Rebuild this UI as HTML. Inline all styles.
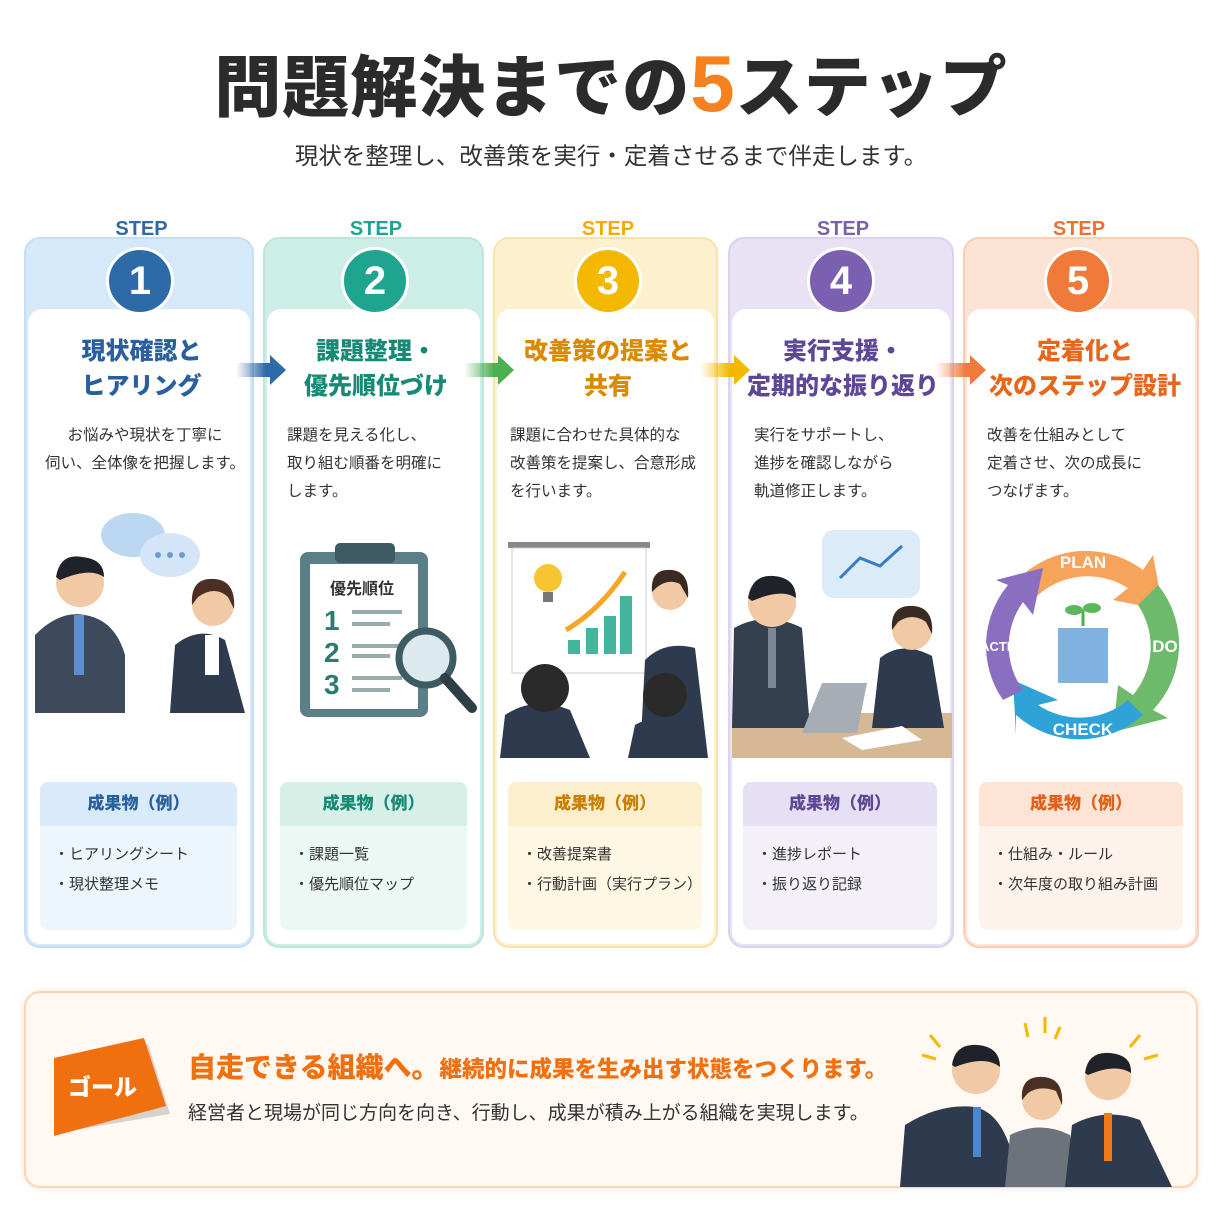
<!DOCTYPE html>
<html><head><meta charset="utf-8"><style>
*{margin:0;padding:0;box-sizing:border-box}
body{width:1222px;height:1226px;background:#fff;position:relative;font-family:"Liberation Sans","Noto Sans CJK JP",sans-serif;overflow:hidden;color:#333}
.a{position:absolute}
.h1{left:0;width:1222px;top:34px;text-align:center;font-size:67px;font-weight:900;color:#2b2b2b;letter-spacing:1px}
.h1 b{color:#f5821f;font-size:80px}
.sub{left:0;width:1222px;top:137px;text-align:center;font-size:23.5px;color:#333}
.card{border-radius:16px;border:2px solid;overflow:hidden}
.inner{position:absolute;left:2px;right:2px;top:70px;bottom:2px;background:#fff;border-radius:14px 14px 12px 12px}
.step{font-weight:900;font-size:20px;text-align:center;width:100%}
.circ{width:68px;height:68px;border-radius:50%;border:3px solid #fff;color:#fff;font-weight:900;font-size:40px;text-align:center;line-height:62px}
.t{text-align:center;font-weight:900;font-size:24px;line-height:35px;width:100%}
.d{font-size:15.5px;line-height:28px;color:#333}
.del{border-radius:8px;overflow:hidden}
.del .hd{height:44px;line-height:44px;text-align:center;font-weight:900;font-size:17px}
.del ul{list-style:none;padding:14px 0 0 14px;font-size:15px;line-height:30px;color:#333}
</style></head><body>
<div class="a h1">問題解決までの<b>5</b>ステップ</div>
<div class="a sub">現状を整理し、改善策を実行・定着させるまで伴走します。</div>

<div class="a card" style="left:24px;top:237px;width:230px;height:711px;border-color:#c6def5;background:#d6e9fb"><div class="inner"></div></div>
<div class="a card" style="left:263px;top:237px;width:221px;height:711px;border-color:#bfe6dc;background:#cdeee6"><div class="inner"></div></div>
<div class="a card" style="left:493px;top:237px;width:225px;height:711px;border-color:#f9e3ad;background:#fdf0cf"><div class="inner"></div></div>
<div class="a card" style="left:728px;top:237px;width:226px;height:711px;border-color:#dcd2ef;background:#e9e2f5"><div class="inner"></div></div>
<div class="a card" style="left:963px;top:237px;width:236px;height:711px;border-color:#f9cfb6;background:#fde3d3"><div class="inner"></div></div>

<div class="a step" style="left:24px;width:235px;top:218px;color:#2f6aa8">STEP</div>
<div class="a circ" style="left:106px;top:247px;background:#2f6aa8">1</div>
<div class="a step" style="left:263px;width:226px;top:218px;color:#1fa58f">STEP</div>
<div class="a circ" style="left:341px;top:247px;background:#1fa58f">2</div>
<div class="a step" style="left:493px;width:230px;top:218px;color:#f0ad00">STEP</div>
<div class="a circ" style="left:574px;top:247px;background:#f5b800">3</div>
<div class="a step" style="left:728px;width:230px;top:218px;color:#7b5fb0">STEP</div>
<div class="a circ" style="left:807px;top:247px;background:#7b5fb0">4</div>
<div class="a step" style="left:963px;width:232px;top:218px;color:#f0712e">STEP</div>
<div class="a circ" style="left:1044px;top:247px;background:#f07a3a">5</div>

<div class="a t" style="left:24px;width:235px;top:334px;color:#2a5f9e">現状確認と<br>ヒアリング</div>
<div class="a t" style="left:263px;width:226px;top:334px;color:#178a76">課題整理・<br>優先順位づけ</div>
<div class="a t" style="left:493px;width:230px;top:334px;color:#d98a00">改善策の提案と<br>共有</div>
<div class="a t" style="left:728px;width:230px;top:334px;color:#5e4796">実行支援・<br>定期的な振り返り</div>
<div class="a t" style="left:963px;width:244px;top:334px;color:#e8651c">定着化と<br>次のステップ設計</div>

<svg class="a" style="left:236px;top:355px" width="52" height="30"><defs><linearGradient id="g1"><stop offset="0" stop-color="#2f6aa8" stop-opacity="0"/><stop offset=".6" stop-color="#2f6aa8"/></linearGradient></defs><path d="M0 8H34V0L50 15L34 30V22H0Z" fill="url(#g1)"/></svg>
<svg class="a" style="left:464px;top:355px" width="52" height="30"><defs><linearGradient id="g2"><stop offset="0" stop-color="#4caf50" stop-opacity="0"/><stop offset=".6" stop-color="#4caf50"/></linearGradient></defs><path d="M0 8H34V0L50 15L34 30V22H0Z" fill="url(#g2)"/></svg>
<svg class="a" style="left:700px;top:355px" width="52" height="30"><defs><linearGradient id="g3"><stop offset="0" stop-color="#f5b800" stop-opacity="0"/><stop offset=".6" stop-color="#f5b800"/></linearGradient></defs><path d="M0 8H34V0L50 15L34 30V22H0Z" fill="url(#g3)"/></svg>
<svg class="a" style="left:936px;top:355px" width="52" height="30"><defs><linearGradient id="g4"><stop offset="0" stop-color="#f07a3a" stop-opacity="0"/><stop offset=".6" stop-color="#f07a3a"/></linearGradient></defs><path d="M0 8H34V0L50 15L34 30V22H0Z" fill="url(#g4)"/></svg>

<div class="a d" style="left:34px;width:222px;top:422px;text-align:center">お悩みや現状を丁寧に<br>伺い、全体像を把握します。</div>
<div class="a d" style="left:287px;top:422px">課題を見える化し、<br>取り組む順番を明確に<br>します。</div>
<div class="a d" style="left:510px;top:422px">課題に合わせた具体的な<br>改善策を提案し、合意形成<br>を行います。</div>
<div class="a d" style="left:754px;top:422px">実行をサポートし、<br>進捗を確認しながら<br>軌道修正します。</div>
<div class="a d" style="left:987px;top:422px">改善を仕組みとして<br>定着させ、次の成長に<br>つなげます。</div>

<svg class="a" style="left:30px;top:505px" width="220" height="215">
 <ellipse cx="103" cy="30" rx="32" ry="22" fill="#bcd7f2"/><ellipse cx="140" cy="50" rx="30" ry="22" fill="#d3e5f7"/>
 <circle cx="128" cy="50" r="3" fill="#6d9bd0"/><circle cx="140" cy="50" r="3" fill="#6d9bd0"/><circle cx="152" cy="50" r="3" fill="#6d9bd0"/>
 <path d="M5 208 L5 130 Q30 105 55 110 Q85 115 95 150 L95 208Z" fill="#3d4a5c"/>
 <circle cx="50" cy="78" r="24" fill="#f1c9a5"/><path d="M26 72 Q30 48 52 52 Q74 54 74 72 Q60 62 30 75Z" fill="#1f2329"/>
 <rect x="44" y="110" width="10" height="60" fill="#5d8fcf"/>
 <path d="M140 208 L145 140 Q170 120 195 135 L215 208Z" fill="#2e3a4d"/>
 <circle cx="183" cy="100" r="21" fill="#f1c9a5"/><path d="M162 100 Q160 72 185 74 Q206 76 204 104 L198 92 Q185 80 168 92Z" fill="#4a2f22"/>
 <rect x="175" y="130" width="14" height="40" fill="#fff"/>
</svg>
<svg class="a" style="left:290px;top:540px" width="190" height="180">
 <rect x="10" y="12" width="128" height="165" rx="8" fill="#5b7f87"/><rect x="20" y="24" width="108" height="145" fill="#fff"/>
 <rect x="45" y="3" width="60" height="20" rx="5" fill="#3e5a62"/>
 <text x="40" y="54" font-size="16" font-weight="700" fill="#333" font-family="Liberation Sans,Noto Sans CJK JP,sans-serif">優先順位</text>
 <text x="34" y="90" font-size="28" font-weight="900" fill="#2a7d74" font-family="Liberation Sans,sans-serif">1</text>
 <text x="34" y="122" font-size="28" font-weight="900" fill="#2a7d74" font-family="Liberation Sans,sans-serif">2</text>
 <text x="34" y="154" font-size="28" font-weight="900" fill="#2a7d74" font-family="Liberation Sans,sans-serif">3</text>
 <g stroke="#9aa" stroke-width="4"><line x1="62" y1="72" x2="112" y2="72"/><line x1="62" y1="84" x2="100" y2="84"/><line x1="62" y1="106" x2="112" y2="106"/><line x1="62" y1="116" x2="100" y2="116"/><line x1="62" y1="138" x2="112" y2="138"/><line x1="62" y1="150" x2="100" y2="150"/></g>
 <circle cx="136" cy="118" r="27" fill="#dce9ee" stroke="#3e5a62" stroke-width="7"/><line x1="155" y1="138" x2="182" y2="168" stroke="#2d3e45" stroke-width="10" stroke-linecap="round"/>
</svg>
<svg class="a" style="left:500px;top:540px" width="212" height="218">
 <rect x="8" y="2" width="142" height="6" fill="#888"/><rect x="12" y="8" width="134" height="125" fill="#fff" stroke="#ccc"/>
 <circle cx="48" cy="38" r="14" fill="#f7c531"/><rect x="43" y="52" width="10" height="10" fill="#777"/>
 <rect x="68" y="100" width="12" height="14" fill="#43b59c"/><rect x="86" y="88" width="12" height="26" fill="#43b59c"/><rect x="104" y="76" width="12" height="38" fill="#43b59c"/><rect x="120" y="56" width="12" height="58" fill="#43b59c"/>
 <path d="M66 90 Q100 70 125 32" stroke="#f5a623" stroke-width="5" fill="none"/>
 <path d="M140 218 L145 120 Q165 100 195 108 L208 218Z" fill="#2e3a4d"/><circle cx="170" cy="52" r="18" fill="#f1c9a5"/><path d="M152 52 Q150 28 172 30 Q190 32 188 58 L180 44 Q168 38 156 48Z" fill="#3a2a22"/>
 <path d="M0 218 L5 175 Q35 155 70 170 L90 218Z" fill="#2e3a4d"/><circle cx="45" cy="148" r="24" fill="#2a2a2a"/>
 <path d="M128 218 L135 185 Q160 170 195 185 L205 218Z" fill="#2e3a4d"/><circle cx="165" cy="155" r="22" fill="#2a2a2a"/>
</svg>
<svg class="a" style="left:732px;top:528px" width="220" height="230">
 <rect x="90" y="2" width="98" height="68" rx="12" fill="#dcebf8"/><polyline points="108,50 128,30 148,38 170,18" stroke="#3a7bc8" stroke-width="3" fill="none"/>
 <rect x="0" y="185" width="220" height="45" fill="#d6b994"/>
 <path d="M0 200 L2 100 Q35 82 70 100 L78 200Z" fill="#34404f"/><circle cx="40" cy="75" r="24" fill="#f1c9a5"/><path d="M16 70 Q20 46 42 48 Q64 50 64 70 Q50 60 20 73Z" fill="#1f2329"/>
 <rect x="36" y="100" width="8" height="60" fill="#7a8794"/>
 <path d="M70 205 L90 155 L135 155 L125 205Z" fill="#a7adb5"/>
 <path d="M140 200 L148 130 Q170 112 200 128 L212 200Z" fill="#2e3a4d"/><circle cx="180" cy="102" r="20" fill="#f1c9a5"/><path d="M160 102 Q158 76 182 78 Q202 80 200 106 L194 94 Q180 84 166 94Z" fill="#3a2a22"/>
 <path d="M110 210 L170 198 L190 212 L130 222Z" fill="#fff"/>
</svg>
<svg class="a" style="left:973px;top:540px" width="218" height="215">
 <g transform="translate(5,0)">
 <path d="M35 45 A95 95 0 0 1 165 30 L175 15 L185 70 L135 60 L150 48 A75 75 0 0 0 55 60Z" fill="#f6a35c"/>
 <path d="M180 45 A95 95 0 0 1 175 170 L190 178 L135 192 L140 145 L155 155 A75 75 0 0 0 160 65Z" fill="#6cba6a"/>
 <path d="M165 175 A95 95 0 0 1 38 175 L38 195 L35 140 L80 160 L60 165 A75 75 0 0 0 150 160Z" fill="#2fa3d8"/>
 <path d="M25 160 A95 95 0 0 1 30 45 L18 40 L65 28 L55 75 L45 62 A75 75 0 0 0 45 150Z" fill="#8a6fc0"/>
 <rect x="80" y="88" width="50" height="55" fill="#7fb2e0"/><path d="M105 86 V70" stroke="#4caf50" stroke-width="3"/><ellipse cx="96" cy="70" rx="9" ry="5" fill="#5cb85c"/><ellipse cx="114" cy="68" rx="9" ry="5" fill="#5cb85c"/>
 </g>
 <text x="110" y="28" text-anchor="middle" font-size="17" font-weight="900" fill="#fff" font-family="Liberation Sans,sans-serif">PLAN</text>
 <text x="192" y="112" text-anchor="middle" font-size="17" font-weight="900" fill="#fff" font-family="Liberation Sans,sans-serif">DO</text>
 <text x="110" y="195" text-anchor="middle" font-size="17" font-weight="900" fill="#fff" font-family="Liberation Sans,sans-serif">CHECK</text>
 <text x="32" y="111" text-anchor="middle" font-size="13" font-weight="900" fill="#fff" font-family="Liberation Sans,sans-serif">ACTION</text>
</svg>

<div class="a del" style="left:40px;top:782px;width:197px;height:148px;background:#edf5fd"><div class="hd" style="background:#d9eafb;color:#2a5f9e">成果物（例）</div><ul><li>・ヒアリングシート</li><li>・現状整理メモ</li></ul></div>
<div class="a del" style="left:280px;top:782px;width:187px;height:148px;background:#ecf8f4"><div class="hd" style="background:#d6f0e8;color:#178a76">成果物（例）</div><ul><li>・課題一覧</li><li>・優先順位マップ</li></ul></div>
<div class="a del" style="left:508px;top:782px;width:194px;height:148px;background:#fef7e4"><div class="hd" style="background:#fcefcd;color:#c97f00">成果物（例）</div><ul><li>・改善提案書</li><li>・行動計画（実行プラン）</li></ul></div>
<div class="a del" style="left:743px;top:782px;width:194px;height:148px;background:#f3f0fa"><div class="hd" style="background:#e6e0f4;color:#5e4796">成果物（例）</div><ul><li>・進捗レポート</li><li>・振り返り記録</li></ul></div>
<div class="a del" style="left:979px;top:782px;width:204px;height:148px;background:#fef3ec"><div class="hd" style="background:#fde4d5;color:#e0601a">成果物（例）</div><ul><li>・仕組み・ルール</li><li>・次年度の取り組み計画</li></ul></div>

<div class="a" style="left:24px;top:991px;width:1174px;height:197px;border:2px solid #fcd4b4;border-radius:16px;background:#fff8f3;box-shadow:0 0 8px #fde6d4"></div>
<svg class="a" style="left:52px;top:1030px" width="120" height="110"><path d="M6 30 L96 14 L118 84 L10 102Z" fill="#d8d2cc"/><path d="M2 28 L92 8 L114 76 L2 106Z" fill="#f0700f"/></svg>
<div class="a" style="left:68px;top:1068px;font-size:23px;font-weight:900;color:#fff">ゴール</div>
<div class="a" style="left:188px;top:1046px;font-size:28px;font-weight:900;color:#f0700f;white-space:nowrap">自走できる組織へ。<span style="font-size:22.5px">継続的に成果を生み出す状態をつくります。</span></div>
<div class="a" style="left:188px;top:1098px;font-size:19px;color:#333;white-space:nowrap">経営者と現場が同じ方向を向き、行動し、成果が積み上がる組織を実現します。</div>
<svg class="a" style="left:900px;top:1015px" width="285" height="172">
 <g stroke="#f5b800" stroke-width="3"><line x1="30" y1="20" x2="40" y2="32"/><line x1="22" y1="40" x2="36" y2="44"/><line x1="125" y1="8" x2="128" y2="22"/><line x1="145" y1="2" x2="145" y2="18"/><line x1="160" y1="12" x2="155" y2="24"/><line x1="240" y1="20" x2="230" y2="32"/><line x1="258" y1="40" x2="244" y2="44"/></g>
 <path d="M0 172 L5 110 Q40 88 75 92 Q110 100 118 172Z" fill="#2e3a4d"/><circle cx="76" cy="55" r="24" fill="#f1c9a5"/><path d="M52 50 Q55 28 78 30 Q100 32 100 52 Q85 40 55 52Z" fill="#1f2329"/><rect x="73" y="92" width="8" height="50" fill="#4a86d0"/>
 <path d="M105 172 L110 120 Q140 105 170 120 L178 172Z" fill="#6d737b"/><circle cx="142" cy="85" r="20" fill="#f1c9a5"/><path d="M122 85 Q120 60 144 62 Q164 64 162 90 L156 76 Q140 70 128 78Z" fill="#4a2f22"/>
 <path d="M165 172 L172 110 Q205 92 240 105 L272 172Z" fill="#2e3a4d"/><circle cx="208" cy="62" r="23" fill="#f1c9a5"/><path d="M185 58 Q188 36 210 38 Q232 40 231 58 Q216 48 188 60Z" fill="#1f2329"/><rect x="204" y="98" width="8" height="48" fill="#f07a1a"/>
</svg>
</body></html>
